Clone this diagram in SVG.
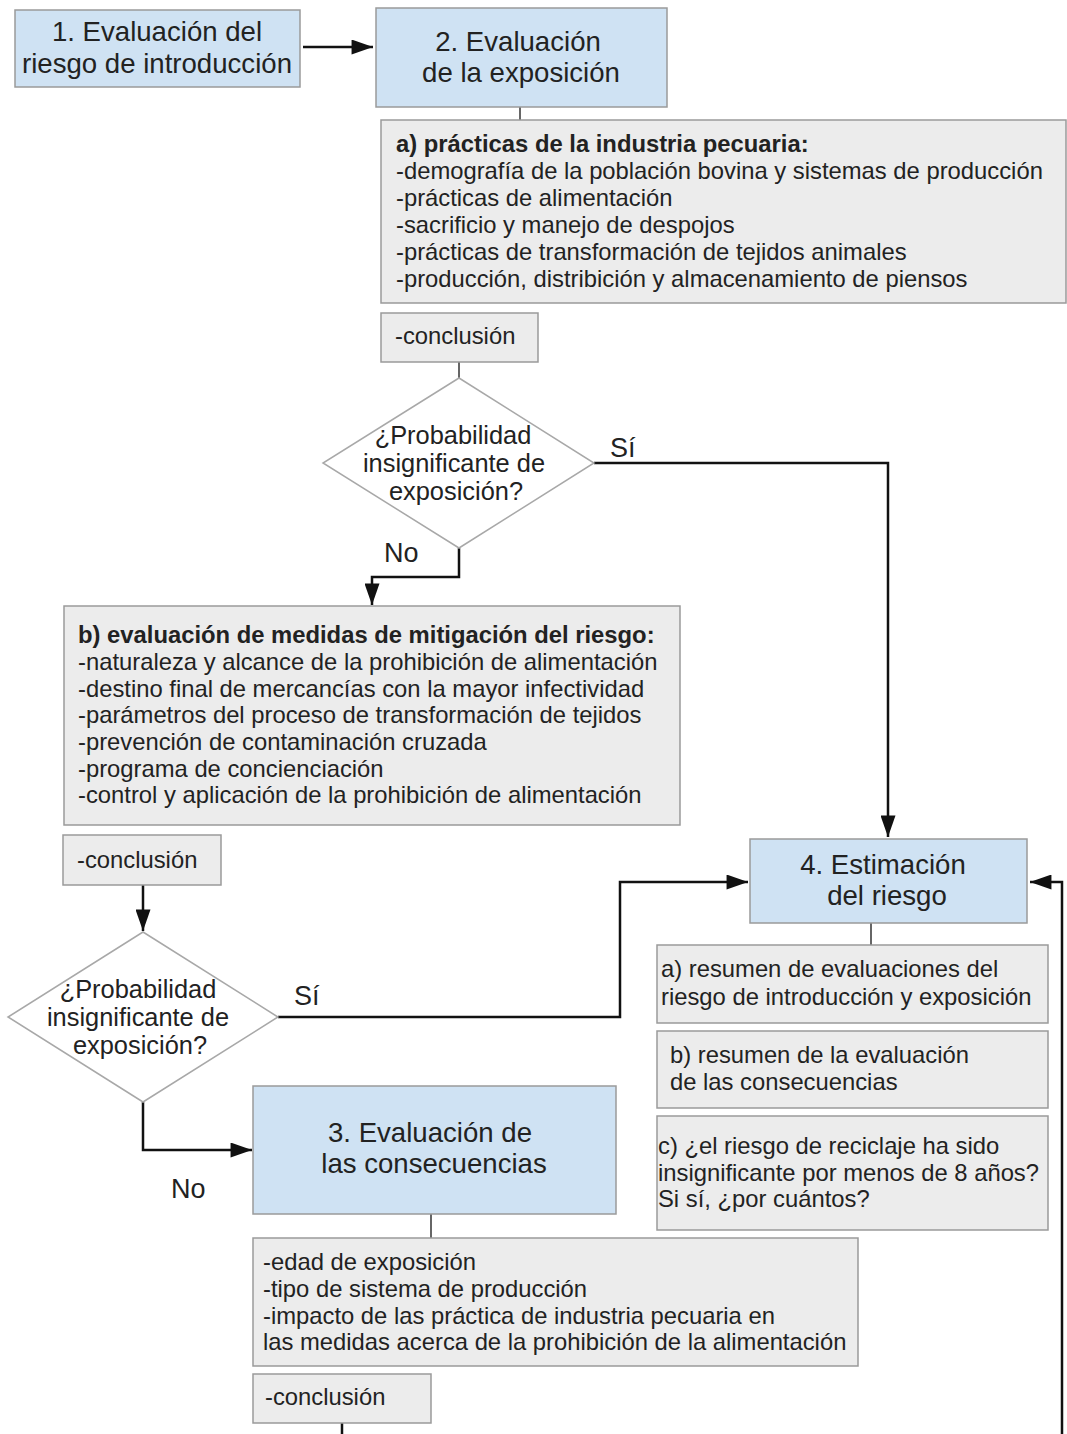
<svg xmlns="http://www.w3.org/2000/svg" width="1067" height="1434" viewBox="0 0 1067 1434">
<style>
.blue{fill:#cfe2f3;stroke:#9a9a9a;stroke-width:1.5}
.gray{fill:#ececec;stroke:#9a9a9a;stroke-width:1.5}
.dia{fill:#ffffff;stroke:#a8a8a8;stroke-width:1.5}
text{font-family:"Liberation Sans",Arial,sans-serif;fill:#222}
.h{font-size:27.6px}
.t{font-size:23.8px}
.d{font-size:25.4px}
.b{font-weight:bold}
.c{text-anchor:middle}
.lbl{font-size:27px}
.conn{fill:none;stroke:#111;stroke-width:2.5}
.thin{fill:none;stroke:#333;stroke-width:1.5}
</style>
<defs>
<marker id="ahb" viewBox="0 0 20 14" refX="20" refY="7" markerWidth="22" markerHeight="15" markerUnits="userSpaceOnUse" orient="auto">
<path d="M0,0 L20,7 L0,14 z" fill="#111"/>
</marker>
</defs>
<rect width="1067" height="1434" fill="#ffffff"/>
<g id="connectors">
<path class="conn" d="M303,47 H373" marker-end="url(#ahb)"/>
<path class="thin" d="M520,107 V120"/>
<path class="thin" d="M459,362 V378"/>
<path class="conn" d="M594,463 H888 V837" marker-end="url(#ahb)"/>
<path class="conn" d="M459,548 V577 H372 V605" marker-end="url(#ahb)"/>
<path class="conn" d="M143,885 V931" marker-end="url(#ahb)"/>
<path class="conn" d="M278,1017 H620 V882 H748" marker-end="url(#ahb)"/>
<path class="thin" d="M871,923 V945"/>
<path class="conn" d="M1062,1434 V882 H1030" marker-end="url(#ahb)"/>
<path class="conn" d="M143,1102 V1150 H252" marker-end="url(#ahb)"/>
<path class="thin" d="M431,1214 V1238"/>
<path class="conn" d="M342,1423 V1434"/>
<text class="lbl" x="610" y="457">Sí</text>
<text class="lbl" x="384" y="562">No</text>
<text class="lbl" x="294" y="1005">Sí</text>
<text class="lbl" x="171" y="1198">No</text>
</g>
<g id="n1">
<rect class="blue" x="15" y="10" width="285" height="77"/>
<text class="h c" x="157" y="41">1. Evaluación del</text>
<text class="h c" x="157" y="73">riesgo de introducción</text>
</g>
<g id="n2">
<rect class="blue" x="376" y="8" width="291" height="99"/>
<text class="h c" x="518" y="51">2. Evaluación</text>
<text class="h c" x="521" y="82">de la exposición</text>
</g>
<g id="n2a">
<rect class="gray" x="381" y="120" width="685" height="183"/>
<text class="t b" x="396" y="152">a) prácticas de la industria pecuaria:</text>
<text class="t" x="396" y="179">-demografía de la población bovina y sistemas de producción</text>
<text class="t" x="396" y="206">-prácticas de alimentación</text>
<text class="t" x="396" y="233">-sacrificio y manejo de despojos</text>
<text class="t" x="396" y="260">-prácticas de transformación de tejidos animales</text>
<text class="t" x="396" y="287">-producción, distribición y almacenamiento de piensos</text>
</g>
<g id="n2c">
<rect class="gray" x="381" y="313" width="157" height="49"/>
<text class="t" x="395" y="344">-conclusión</text>
</g>
<g id="d1">
<polygon class="dia" points="459,378 594,463 459,548 323,463"/>
<text class="d c" x="453" y="444">¿Probabilidad</text>
<text class="d c" x="454" y="472">insignificante de</text>
<text class="d c" x="456" y="500">exposición?</text>
</g>
<g id="n2b">
<rect class="gray" x="64" y="606" width="616" height="219"/>
<text class="t b" x="78" y="643">b) evaluación de medidas de mitigación del riesgo:</text>
<text class="t" x="78" y="670">-naturaleza y alcance de la prohibición de alimentación</text>
<text class="t" x="78" y="697">-destino final de mercancías con la mayor infectividad</text>
<text class="t" x="78" y="723">-parámetros del proceso de transformación de tejidos</text>
<text class="t" x="78" y="750">-prevención de contaminación cruzada</text>
<text class="t" x="78" y="777">-programa de concienciación</text>
<text class="t" x="78" y="803">-control y aplicación de la prohibición de alimentación</text>
</g>
<g id="n2bc">
<rect class="gray" x="63" y="835" width="158" height="50"/>
<text class="t" x="77" y="868">-conclusión</text>
</g>
<g id="d2">
<polygon class="dia" points="143,932 278,1017 143,1102 8,1017"/>
<text class="d c" x="138" y="998">¿Probabilidad</text>
<text class="d c" x="138" y="1026">insignificante de</text>
<text class="d c" x="140" y="1054">exposición?</text>
</g>
<g id="n4">
<rect class="blue" x="750" y="839" width="277" height="84"/>
<text class="h c" x="883" y="874">4. Estimación</text>
<text class="h c" x="887" y="905">del riesgo</text>
</g>
<g id="n4a">
<rect class="gray" x="657" y="945" width="391" height="78"/>
<text class="t" x="661" y="977">a) resumen de evaluaciones del</text>
<text class="t" x="661" y="1005">riesgo de introducción y exposición</text>
</g>
<g id="n4b">
<rect class="gray" x="657" y="1031" width="391" height="77"/>
<text class="t" x="670" y="1063">b) resumen de la evaluación</text>
<text class="t" x="670" y="1090">de las consecuencias</text>
</g>
<g id="n4c">
<rect class="gray" x="657" y="1116" width="391" height="114"/>
<text class="t" x="658" y="1154">c) ¿el riesgo de reciclaje ha sido</text>
<text class="t" x="658" y="1181">insignificante por menos de 8 años?</text>
<text class="t" x="658" y="1207">Si sí, ¿por cuántos?</text>
</g>
<g id="n3">
<rect class="blue" x="253" y="1086" width="363" height="128"/>
<text class="h c" x="430" y="1142">3. Evaluación de</text>
<text class="h c" x="434" y="1173">las consecuencias</text>
</g>
<g id="n3a">
<rect class="gray" x="253" y="1238" width="605" height="128"/>
<text class="t" x="263" y="1270">-edad de exposición</text>
<text class="t" x="263" y="1297">-tipo de sistema de producción</text>
<text class="t" x="263" y="1324">-impacto de las práctica de industria pecuaria en</text>
<text class="t" x="263" y="1350">las medidas acerca de la prohibición de la alimentación</text>
</g>
<g id="n3c">
<rect class="gray" x="253" y="1374" width="178" height="49"/>
<text class="t" x="265" y="1405">-conclusión</text>
</g>
</svg>
